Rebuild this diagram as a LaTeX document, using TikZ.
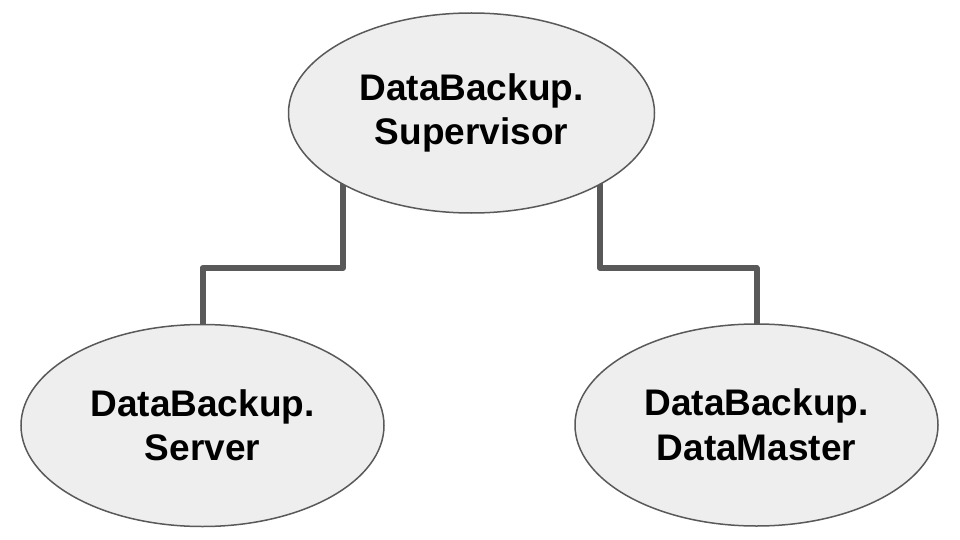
\documentclass[tikz,border=0pt]{standalone}
\usepackage{fontspec}
\setmainfont{Liberation Sans}
\usetikzlibrary{shapes.geometric}
\pgfdeclarelayer{background}
\pgfsetlayers{background,main}
\definecolor{ellfill}{HTML}{EEEEEE}
\definecolor{edge}{HTML}{595959}
\tikzset{
  ell/.style={ellipse, draw=edge, line width=1.5pt, fill=ellfill, inner sep=0pt,
    minimum width=363pt, minimum height=202pt, align=center,
    font=\bfseries\fontsize{37}{44.5}\selectfont},
  conn/.style={draw=edge, line width=6pt, line join=round}
}
\begin{document}
\begin{tikzpicture}[x=1pt,y=-1pt]
\useasboundingbox (0,0) rectangle (960,540);
\node[ell, minimum width=366pt, minimum height=200pt] (top) at (471.5,113) {DataBackup.\\Supervisor};
\node[ell] (left) at (202.5,425.5) {DataBackup.\\Server};
\node[ell] (right) at (756.5,425) {DataBackup.\\DataMaster};
\begin{pgfonlayer}{background}
\draw[conn] ([xshift=-128.5pt]top.center) -- ++(0,155) -| (left.center);
\draw[conn] ([xshift=128.5pt]top.center) -- ++(0,155) -| (right.center);
\end{pgfonlayer}
\end{tikzpicture}
\end{document}
